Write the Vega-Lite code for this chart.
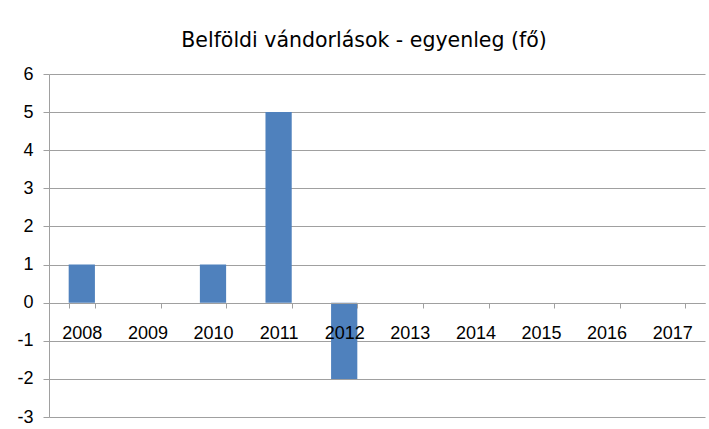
{
  "$schema": "https://vega.github.io/schema/vega-lite/v6.json",
  "autosize": {"type": "none"},
  "width": 656,
  "height": 343,
  "padding": {"left": 49, "top": 74, "right": 4, "bottom": 12},
  "background": "white",
  "title": {
    "text": "Belföldi vándorlások - egyenleg (fő)",
    "font": "DejaVu Sans",
    "fontSize": 20.5,
    "fontWeight": "normal",
    "color": "#000000",
    "anchor": "middle",
    "dx": -13,
    "offset": 14
  },
  "data": {
    "values": [
      {"year": "2008", "value": 1},
      {"year": "2009", "value": 0},
      {"year": "2010", "value": 1},
      {"year": "2011", "value": 5},
      {"year": "2012", "value": -2},
      {"year": "2013", "value": 0},
      {"year": "2014", "value": 0},
      {"year": "2015", "value": 0},
      {"year": "2016", "value": 0},
      {"year": "2017", "value": 0}
    ]
  },
  "mark": {"type": "bar", "color": "#4F81BD"},
  "encoding": {
    "x": {
      "field": "year",
      "type": "ordinal",
      "scale": {"paddingInner": 0.6, "paddingOuter": 0.3},
      "axis": {
        "title": null,
        "labelAngle": 0,
        "offset": -114,
        "ticks": true,
        "tickBand": "extent",
        "tickSize": 5,
        "tickColor": "#A0A0A0",
        "domainColor": "#A0A0A0",
        "labelFont": "Liberation Sans",
        "labelFontSize": 18,
        "labelColor": "#000000",
        "labelPadding": 16,
        "grid": false,
        "zindex": 1
      }
    },
    "y": {
      "field": "value",
      "type": "quantitative",
      "scale": {"domain": [-3, 6], "nice": false},
      "axis": {
        "title": null,
        "values": [-3, -2, -1, 0, 1, 2, 3, 4, 5, 6],
        "labelExpr": "datum.value < 0 ? '-' + abs(datum.value) : '' + datum.value",
        "grid": true,
        "gridColor": "#A0A0A0",
        "gridWidth": 1,
        "domainColor": "#A0A0A0",
        "tickColor": "#A0A0A0",
        "tickSize": 6,
        "labelFont": "Liberation Sans",
        "labelFontSize": 18,
        "labelColor": "#000000",
        "labelPadding": 10
      }
    }
  },
  "config": {"view": {"stroke": null}}
}
